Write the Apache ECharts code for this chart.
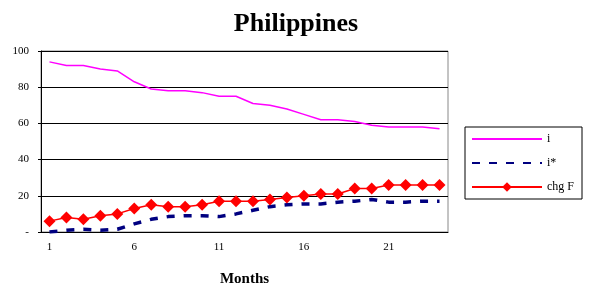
<!DOCTYPE html>
<html>
<head>
<meta charset="utf-8">
<script src="https://cdn.jsdelivr.net/npm/echarts@6/dist/echarts.min.js"></script>
<style>
  html, body { margin: 0; padding: 0; background: #fff; }
  #main { width: 591px; height: 289px; }
</style>
</head>
<body>
<div id="main"></div>
<script>
var months = [];
for (var m = 1; m <= 24; m++) months.push(String(m));

var iVals = [94, 92, 92, 90, 89, 83, 79, 78, 78, 77, 75, 75, 71, 70, 68, 65, 62, 62, 61, 59, 58, 58, 58, 57];
var iStarVals = [0, 1, 1.5, 1, 1.5, 4.5, 7, 8.5, 9, 9, 8.5, 10, 12, 14, 15, 15.5, 15.5, 16.5, 17, 18, 16.5, 16.5, 17, 17];
var chgF = [6, 8, 7, 9, 10, 13, 15, 14, 14, 15, 17, 17, 17, 18, 19, 20, 21, 21, 24, 24, 26, 26, 26, 26];

var serif = '"Liberation Serif", "DejaVu Serif", serif';

var myChart = echarts.init(document.getElementById('main'));
var option = {
    animation: false,
    title: {
        text: 'Philippines',
        left: 291,
        textAlign: 'center',
        top: 6,
        textStyle: {
            fontFamily: serif,
            fontWeight: 'bold',
            fontSize: 26,
            color: '#000'
        }
    },
    grid: {
        left: 41, right: 143, top: 51, bottom: 57,
        outerBoundsMode: 'none',
        show: true, borderColor: '#888', borderWidth: 1
    },
    legend: {
        orient: 'vertical',
        left: 465,
        top: 127,
        width: 117,
        padding: [6, 8, 6, 6],
        itemWidth: 70,
        itemHeight: 12,
        itemGap: 12,
        borderColor: '#000',
        borderWidth: 1,
        textStyle: { fontFamily: serif, fontSize: 12, color: '#000' },
        data: [
            { name: 'i', itemStyle: { opacity: 0 } },
            { name: 'i*', itemStyle: { opacity: 0 } },
            { name: 'chg F' }
        ]
    },
    xAxis: {
        type: 'category',
        data: months,
        boundaryGap: true,
        name: 'Months',
        nameLocation: 'middle',
        nameGap: 40,
        nameTextStyle: { fontFamily: serif, fontWeight: 'bold', fontSize: 15, color: '#000' },
        axisLine: { lineStyle: { color: '#000', width: 1 } },
        axisTick: { interval: 4, length: 4, lineStyle: { color: '#000' } },
        axisLabel: { interval: 4, fontFamily: serif, fontSize: 11, color: '#000', margin: 10 }
    },
    yAxis: {
        type: 'value',
        min: 0,
        max: 100,
        interval: 20,
        axisLine: { show: true, lineStyle: { color: '#000', width: 1 } },
        axisTick: { show: true, length: 3, lineStyle: { color: '#000' } },
        splitLine: { lineStyle: { color: '#000', width: 1 } },
        axisLabel: {
            fontFamily: serif, fontSize: 11, color: '#000', margin: 12,
            formatter: function (v) { return v === 0 ? '-' : String(v); }
        }
    },
    series: [
        {
            name: 'i',
            type: 'line',
            data: iVals,
            symbol: 'none',
            lineStyle: { color: '#ff00ff', width: 1.5 },
            itemStyle: { color: '#ff00ff' }
        },
        {
            name: 'i*',
            type: 'line',
            data: iStarVals,
            symbol: 'none',
            lineStyle: { color: '#000080', width: 3.5, type: [8, 9] },
            itemStyle: { color: '#000080' }
        },
        {
            name: 'chg F',
            type: 'line',
            data: chgF,
            symbol: 'diamond',
            symbolSize: 12,
            showAllSymbol: true,
            lineStyle: { color: '#ff0000', width: 1.5 },
            itemStyle: { color: '#ff0000' }
        }
    ]
};
myChart.setOption(option);
</script>
</body>
</html>
